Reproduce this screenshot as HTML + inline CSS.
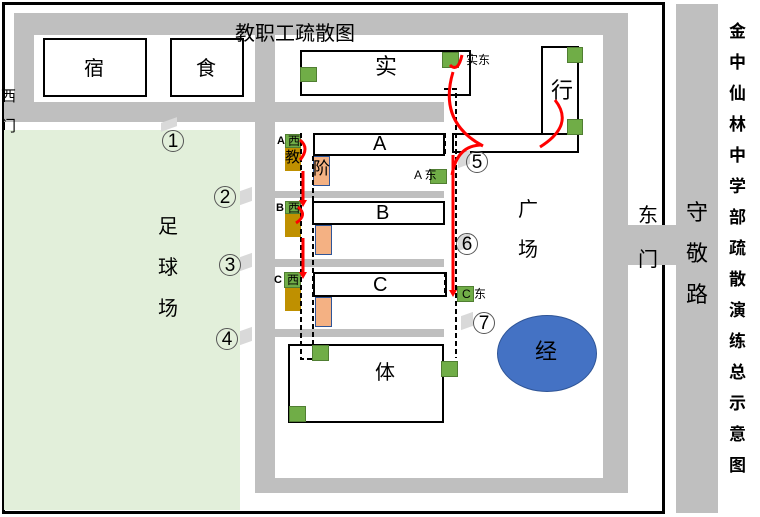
<!DOCTYPE html>
<html><head><meta charset="utf-8"><style>
body{margin:0;width:760px;height:517px;position:relative;background:#fff;overflow:hidden;font-family:"Liberation Sans","Noto Sans CJK SC",sans-serif}
div{position:absolute;box-sizing:border-box}
.g{background:#bfbfbf}
.b{border:2.5px solid #000;background:#fff}
.sq{background:#70ad47;border:1px solid #507e32}
.gd{background:#bf9000}
.or{background:#f4b183;border:1px solid #2f5597}
.t{font-size:20px;line-height:1;white-space:nowrap}
.c{width:22px;height:22px;border:1px solid #555;border-radius:50%;font-size:19px;line-height:21px;text-align:center}
.m{width:12px;height:14px;background:#d9d9d9;transform:skewY(-20deg)}
.s{font-size:11px;font-weight:bold;line-height:1;white-space:nowrap}
</style></head><body>
<div style="left:2px;top:2px;width:663px;height:512px;border:3px solid #000"></div>
<div style="left:4px;top:130px;width:236px;height:380px;background:#e2efda"></div>
<div class="g" style="left:14px;top:13px;width:614px;height:22px"></div>
<div class="g" style="left:14px;top:13px;width:20px;height:90px"></div>
<div class="g" style="left:4px;top:102px;width:440px;height:20px"></div>
<div class="g" style="left:255px;top:35px;width:20px;height:458px"></div>
<div class="g" style="left:603px;top:13px;width:25px;height:480px"></div>
<div class="g" style="left:255px;top:478px;width:373px;height:15px"></div>
<div class="g" style="left:275px;top:191px;width:169px;height:7px"></div>
<div class="g" style="left:275px;top:259px;width:169px;height:8px"></div>
<div class="g" style="left:275px;top:329px;width:169px;height:8px"></div>
<div class="g" style="left:628px;top:225px;width:48px;height:40px"></div>
<div class="g" style="left:676px;top:4px;width:42px;height:509px"></div>

<div class="b" style="left:43px;top:38px;width:104px;height:59px"></div>
<div class="b" style="left:170px;top:38px;width:74px;height:59px"></div>
<div class="t" style="left:84px;top:59px">宿</div>
<div class="t" style="left:196px;top:59px">食</div>
<div class="t" style="left:235px;top:24px;background:transparent">教职工疏散图</div>
<div class="b" style="left:300px;top:50px;width:171px;height:46px"></div>
<div class="t" style="left:375px;top:56px;font-size:22px">实</div>
<div class="b" style="left:541px;top:46px;width:38px;height:89px"></div>
<div class="t" style="left:551px;top:80px;font-size:22px">行</div>
<div class="b" style="left:452px;top:133px;width:127px;height:20px"></div>
<div class="b" style="left:313px;top:133px;width:132px;height:23px"></div>
<div class="t" style="left:373px;top:134px">A</div>
<div class="b" style="left:312px;top:201px;width:133px;height:24px"></div>
<div class="t" style="left:376px;top:203px">B</div>
<div class="b" style="left:313px;top:272px;width:134px;height:25px"></div>
<div class="t" style="left:373px;top:275px">C</div>
<div class="b" style="left:288px;top:344px;width:156px;height:79px"></div>
<div class="t" style="left:375px;top:363px">体</div>

<div class="or" style="left:313px;top:156px;width:17px;height:30px"></div>
<div class="t" style="left:313px;top:160px;font-size:17px">阶</div>
<div class="or" style="left:315px;top:225px;width:17px;height:30px"></div>
<div class="or" style="left:315px;top:297px;width:17px;height:30px"></div>

<div class="gd" style="left:285px;top:147px;width:16px;height:24px"></div>
<div class="sq" style="left:285px;top:134px;width:16px;height:14px"></div>
<div class="s" style="left:277px;top:136px">A</div><div class="s" style="left:288px;top:135px;font-weight:normal;font-size:12px">西</div>
<div class="t" style="left:285px;top:150px;font-size:15px">教</div>
<div class="gd" style="left:285px;top:213px;width:16px;height:24px"></div>
<div class="sq" style="left:285px;top:201px;width:16px;height:13px"></div>
<div class="s" style="left:276px;top:203px">B</div><div class="s" style="left:288px;top:202px;font-weight:normal;font-size:12px">西</div>
<div class="gd" style="left:285px;top:287px;width:16px;height:24px"></div>
<div class="sq" style="left:284px;top:272px;width:17px;height:16px"></div>
<div class="s" style="left:274px;top:275px">C</div><div class="s" style="left:287px;top:274px;font-weight:normal;font-size:12px">西</div>

<div class="sq" style="left:300px;top:67px;width:17px;height:15px"></div>
<div class="sq" style="left:442px;top:52px;width:17px;height:16px"></div>
<div class="s" style="left:466px;top:54px;font-weight:normal;font-size:12px">实东</div>
<div class="sq" style="left:567px;top:47px;width:16px;height:16px"></div>
<div class="sq" style="left:567px;top:119px;width:16px;height:16px"></div>
<div class="sq" style="left:430px;top:169px;width:17px;height:15px"></div>
<div class="s" style="left:414px;top:169px;font-weight:normal;font-size:12px">A 东</div>
<div class="sq" style="left:457px;top:286px;width:17px;height:16px"></div>
<div class="s" style="left:462px;top:288px;font-weight:normal;font-size:12px">C 东</div>
<div class="sq" style="left:312px;top:345px;width:17px;height:16px"></div>
<div class="sq" style="left:441px;top:361px;width:17px;height:16px"></div>
<div class="sq" style="left:289px;top:406px;width:17px;height:16px"></div>

<div style="left:497px;top:315px;width:100px;height:77px;border-radius:50%;background:#4472c4;border:1px solid #2f5597"></div>
<div class="t" style="left:535px;top:341px;font-size:22px">经</div>

<div class="m" style="left:161px;top:120px;width:16px;height:9px"></div>
<div class="m" style="left:240px;top:189px"></div>
<div class="m" style="left:240px;top:255px"></div>
<div class="m" style="left:240px;top:329px"></div>
<div class="m" style="left:458px;top:152px"></div>
<div class="m" style="left:458px;top:235px"></div>
<div class="m" style="left:461px;top:314px"></div>
<div class="c" style="left:162px;top:130px">1</div>
<div class="c" style="left:214px;top:186px">2</div>
<div class="c" style="left:219px;top:254px">3</div>
<div class="c" style="left:216px;top:328px">4</div>
<div class="c" style="left:466px;top:151px">5</div>
<div class="c" style="left:456px;top:233px">6</div>
<div class="c" style="left:473px;top:312px">7</div>

<div class="t" style="left:518px;top:200px">广</div>
<div class="t" style="left:518px;top:240px">场</div>
<div class="t" style="left:158px;top:217px">足</div>
<div class="t" style="left:158px;top:258px">球</div>
<div class="t" style="left:158px;top:299px">场</div>
<div class="t" style="left:1px;top:89px;font-size:15px">西</div>
<div class="t" style="left:1px;top:119px;font-size:15px">门</div>
<div class="t" style="left:638px;top:206px">东</div>
<div class="t" style="left:638px;top:250px">门</div>
<div class="t" style="left:686px;top:192px;font-size:22px;width:22px;line-height:41px;white-space:normal">守敬路</div>
<div class="t" style="left:729px;top:16px;font-size:17px;font-weight:bold;width:18px;line-height:31px;white-space:normal">金中仙林中学部疏散演练总示意图</div>

<svg width="760" height="517" style="position:absolute;left:0;top:0">
<g fill="none" stroke="#000" stroke-width="2" stroke-dasharray="5,3">
<path d="M444 89 H456 V358"/>
<path d="M301 133 V359 H313"/>
<path d="M313 156 V344"/>
<path d="M445 133 V155 M445 272 V297"/>
</g>
<g stroke="#f00" stroke-width="3" fill="none">
<path d="M453 155 V290"/>
<path d="M303 171 V200"/>
<path d="M303 238 V272"/>
<path d="M300 140 q10 8 0 20"/>
<path d="M298 207 q10 8 -2 16"/>
<path d="M453 72 q-15 50 30 74"/>
<path d="M450 65 q8 8 12 -10"/>
<path d="M482 145 q-25 0 -30 30"/>
<path d="M555 100 q20 25 -15 47"/>
</g>
<g fill="#f00">
<polygon points="449,290 457,290 453,297"/>
<polygon points="299,200 307,200 303,207"/>
<polygon points="299,272 307,272 303,279"/>
</g>
</svg>
</body></html>
